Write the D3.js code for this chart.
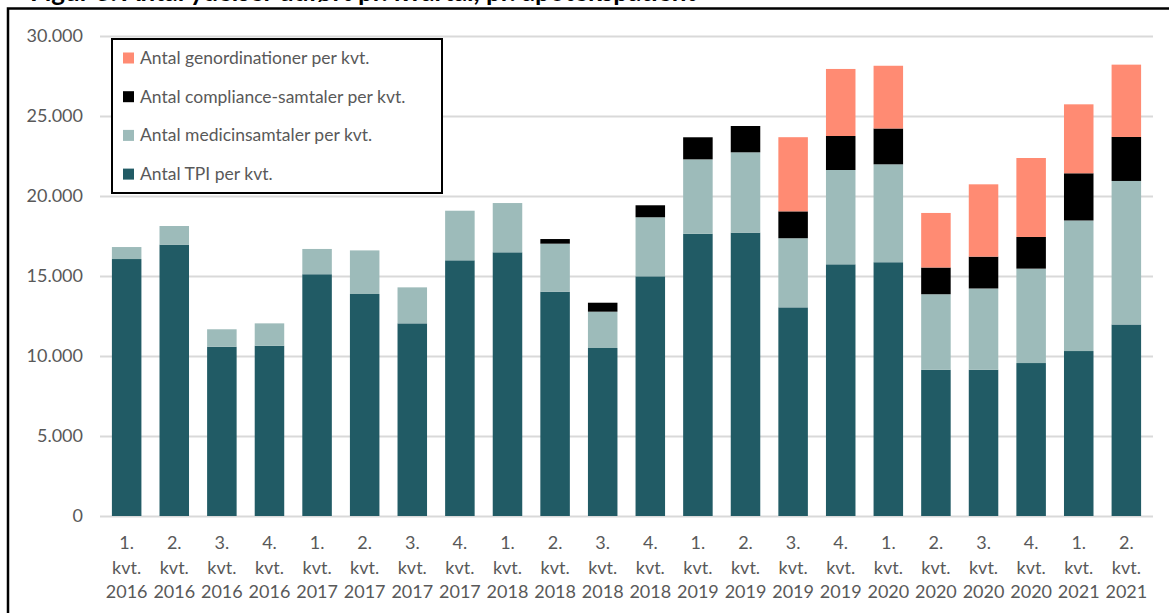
<!DOCTYPE html>
<html>
<head>
<meta charset="utf-8">
<script src="https://cdn.jsdelivr.net/npm/d3@7"></script>
<style>
  body { margin: 0; background: #fff; }
  svg { display: block; font-family: Lato, "Open Sans", sans-serif; }
</style>
</head>
<body>
<div id="chart-area"></div>
<script>

// data
var quarters = ["1.", "2.", "3.", "4.", "1.", "2.", "3.", "4.", "1.", "2.", "3.", "4.",
                "1.", "2.", "3.", "4.", "1.", "2.", "3.", "4.", "1.", "2."];
var years = ["2016", "2016", "2016", "2016", "2017", "2017", "2017", "2017", "2018", "2018", "2018", "2018",
             "2019", "2019", "2019", "2019", "2020", "2020", "2020", "2020", "2021", "2021"];

var tpi = [16060, 16960, 10580, 10640, 15110, 13875, 12040, 15980, 16480, 14020, 10500, 14980,
           17640, 17710, 13040, 15730, 15860, 9140, 9140, 9560, 10310, 11970];
var medicin = [750, 1165, 1090, 1400, 1580, 2725, 2250, 3100, 3080, 3000, 2270, 3690,
               4650, 5020, 4320, 5895, 6120, 4720, 5080, 5900, 8160, 8970];
var compliance = [0, 0, 0, 0, 0, 0, 0, 0, 0, 290, 560, 750,
                  1380, 1645, 1680, 2125, 2240, 1670, 1990, 1980, 2950, 2750];
var genord = [0, 0, 0, 0, 0, 0, 0, 0, 0, 0, 0, 0,
              0, 0, 4635, 4190, 3920, 3410, 4520, 4935, 4310, 4520];

var yTicks = [0, 5000, 10000, 15000, 20000, 25000, 30000];

var seriesNames = ["Antal TPI per kvt.", "Antal medicinsamtaler per kvt.",
                   "Antal compliance-samtaler per kvt.", "Antal genordinationer per kvt."];
var seriesColors = ["#215b65", "#9dbbba", "#000000", "#ff8b73"];

var W = 1169, H = 613;
var margin = { left: 100, right: 16, top: 36, bottom: 97 };
var width = W - margin.left - margin.right,
    height = H - margin.top - margin.bottom;

var svg = d3.select("#chart-area")
    .append("svg")
        .attr("width", W)
        .attr("height", H);

// title (mostly cut off above the frame, as in the source)
svg.append("text")
    .attr("x", 30)
    .attr("y", 1)
    .attr("font-size", "26px")
    .attr("font-weight", "bold")
    .attr("fill", "#000")
    .text("Figur 3: Antal ydelser udført pr. kvartal, pr. apotekspatient");

// outer frame
svg.append("rect")
    .attr("x", 8)
    .attr("y", 8.5)
    .attr("width", W + 20)
    .attr("height", H + 20)
    .attr("fill", "none")
    .attr("stroke", "#000")
    .attr("stroke-width", 2.5);

var g = svg.append("g")
    .attr("transform", "translate(" + margin.left + ", " + margin.top + ")");

var rows = tpi.map(function(d, i) {
    return { i: i, tpi: d, medicin: medicin[i], compliance: compliance[i], genord: genord[i] };
});
var keys = ["tpi", "medicin", "compliance", "genord"];
var stacked = d3.stack().keys(keys)(rows);

// scales
var x = d3.scaleBand()
    .domain(d3.range(tpi.length))
    .range([0, width])
    .paddingInner(0.38)
    .paddingOuter(0.25);

var y = d3.scaleLinear()
    .domain([0, 30000])
    .range([height, 0]);

// gridlines + y labels
var fmt = function(d) { return d === 0 ? "0" : d3.format(",")(d).replace(/,/g, "."); };
var yAxis = g.append("g")
    .call(d3.axisLeft(y).tickValues(yTicks).tickSize(-width).tickFormat(fmt));
yAxis.select(".domain").remove();
yAxis.selectAll(".tick line")
    .attr("stroke", "#d9d9d9")
    .attr("stroke-width", 2);
yAxis.selectAll(".tick text")
    .attr("x", -17)
    .attr("font-size", "18px")
    .attr("font-family", "Lato, sans-serif")
    .attr("fill", "#595959");

// bars
g.selectAll(".layer")
    .data(stacked)
    .enter().append("g")
        .attr("class", "layer")
        .attr("fill", function(d, i) { return seriesColors[i]; })
    .selectAll("rect")
    .data(function(d) { return d.filter(function(p) { return p[1] - p[0] > 0; }); })
    .enter().append("rect")
        .attr("x", function(d) { return x(d.data.i); })
        .attr("width", x.bandwidth())
        .attr("y", function(d) { return y(d[1]); })
        .attr("height", function(d) { return y(d[0]) - y(d[1]); });

// x labels, three lines each
var xl = g.selectAll(".xlab")
    .data(quarters)
    .enter().append("text")
        .attr("class", "xlab")
        .attr("text-anchor", "middle")
        .attr("font-size", "18px")
        .attr("fill", "#595959")
        .attr("transform", function(d, i) {
            return "translate(" + (x(i) + x.bandwidth() / 2) + "," + (height + 33) + ")";
        });
xl.append("tspan").attr("x", 0).attr("dy", 0).text(function(d) { return d; });
xl.append("tspan").attr("x", 0).attr("dy", 24.5).text("kvt.");
xl.append("tspan").attr("x", 0).attr("dy", 24.5).text(function(d, i) { return years[i]; });

// legend (reverse order, genordinationer on top)
var leg = svg.append("g").attr("transform", "translate(112, 39)");
leg.append("rect")
    .attr("width", 330)
    .attr("height", 154)
    .attr("fill", "#fff")
    .attr("stroke", "#000")
    .attr("stroke-width", 2);

var order = [3, 2, 1, 0];
var item = leg.selectAll(".item")
    .data(order)
    .enter().append("g")
        .attr("class", "item")
        .attr("transform", function(d, i) { return "translate(11," + (19 + i * 38.7) + ")"; });
item.append("rect")
    .attr("y", -5.5)
    .attr("width", 11)
    .attr("height", 11)
    .attr("fill", function(d) { return seriesColors[d]; });
item.append("text")
    .attr("x", 17)
    .attr("y", 6)
    .attr("font-size", "17.5px")
    .attr("fill", "#595959")
    .text(function(d) { return seriesNames[d]; });

</script>
</body>
</html>
